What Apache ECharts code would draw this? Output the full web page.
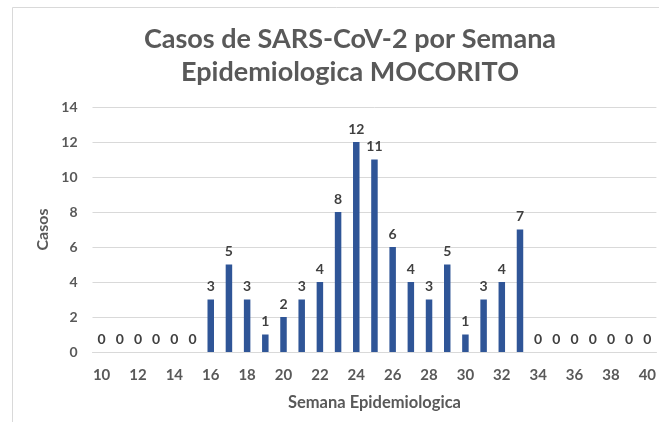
<!DOCTYPE html>
<html>
<head>
<meta charset="utf-8">
<script src="https://cdn.jsdelivr.net/npm/echarts@6/dist/echarts.min.js"></script>
<style>
  html, body { margin: 0; padding: 0; background: #fff; }
  #chart { width: 659px; height: 422px; }
</style>
</head>
<body>
<div id="chart"></div>
<script>
// Epidemiological weeks 10..40 and confirmed cases per week
const weeks = ['10','11','12','13','14','15','16','17','18','19','20','21','22','23','24','25','26','27','28','29','30','31','32','33','34','35','36','37','38','39','40'];
const cases = [0,0,0,0,0,0,3,5,3,1,2,3,4,8,12,11,6,4,3,5,1,3,4,7,0,0,0,0,0,0,0];
const yTicks = { min: 0, max: 14, interval: 2 };

const FONT = 'Lato, "Open Sans", sans-serif';
const chart = echarts.init(document.getElementById('chart'));
chart.setOption({
  animation: false,
  backgroundColor: '#ffffff',
  graphic: [{
    type: 'rect',
    shape: { x: 12.5, y: 7.5, width: 700, height: 500 },
    style: { fill: 'none', stroke: '#d9d9d9', lineWidth: 1 },
    silent: true
  }],
  title: {
    text: 'Casos de SARS-CoV-2 por Semana\nEpidemiologica MOCORITO',
    left: 345, top: 18, textAlign: 'center',
    textStyle: { fontFamily: FONT, fontSize: 27, fontWeight: 'bold', color: '#595959', lineHeight: 33 }
  },
  grid: { left: 92.5, right: 1, top: 107, bottom: 70 },
  xAxis: {
    type: 'category',
    data: weeks,
    name: 'Semana Epidemiologica',
    nameLocation: 'middle',
    nameGap: 42,
    nameTextStyle: { fontFamily: FONT, fontSize: 16.5, fontWeight: 'bold', color: '#595959' },
    axisLine: { show: true, lineStyle: { color: '#d9d9d9' } },
    axisTick: { show: false },
    axisLabel: { interval: 1, margin: 16, fontFamily: FONT, fontSize: 15, fontWeight: 'bold', color: '#595959' }
  },
  yAxis: {
    type: 'value',
    min: yTicks.min, max: yTicks.max, interval: yTicks.interval,
    name: 'Casos',
    nameLocation: 'middle',
    nameGap: 41,
    nameTextStyle: { fontFamily: FONT, fontSize: 16, fontWeight: 'bold', color: '#595959' },
    axisLine: { show: false },
    axisTick: { show: false },
    splitLine: { lineStyle: { color: '#d9d9d9', width: 1 } },
    axisLabel: { margin: 15, fontFamily: FONT, fontSize: 14, fontWeight: 'bold', color: '#595959' }
  },
  series: [{
    type: 'bar',
    data: cases,
    barWidth: 6.5,
    itemStyle: { color: '#2f5597' },
    label: {
      show: true, position: 'top', distance: 6,
      fontFamily: FONT, fontSize: 14, fontWeight: 'bold', color: '#404040'
    }
  }]
});
</script>
</body>
</html>
